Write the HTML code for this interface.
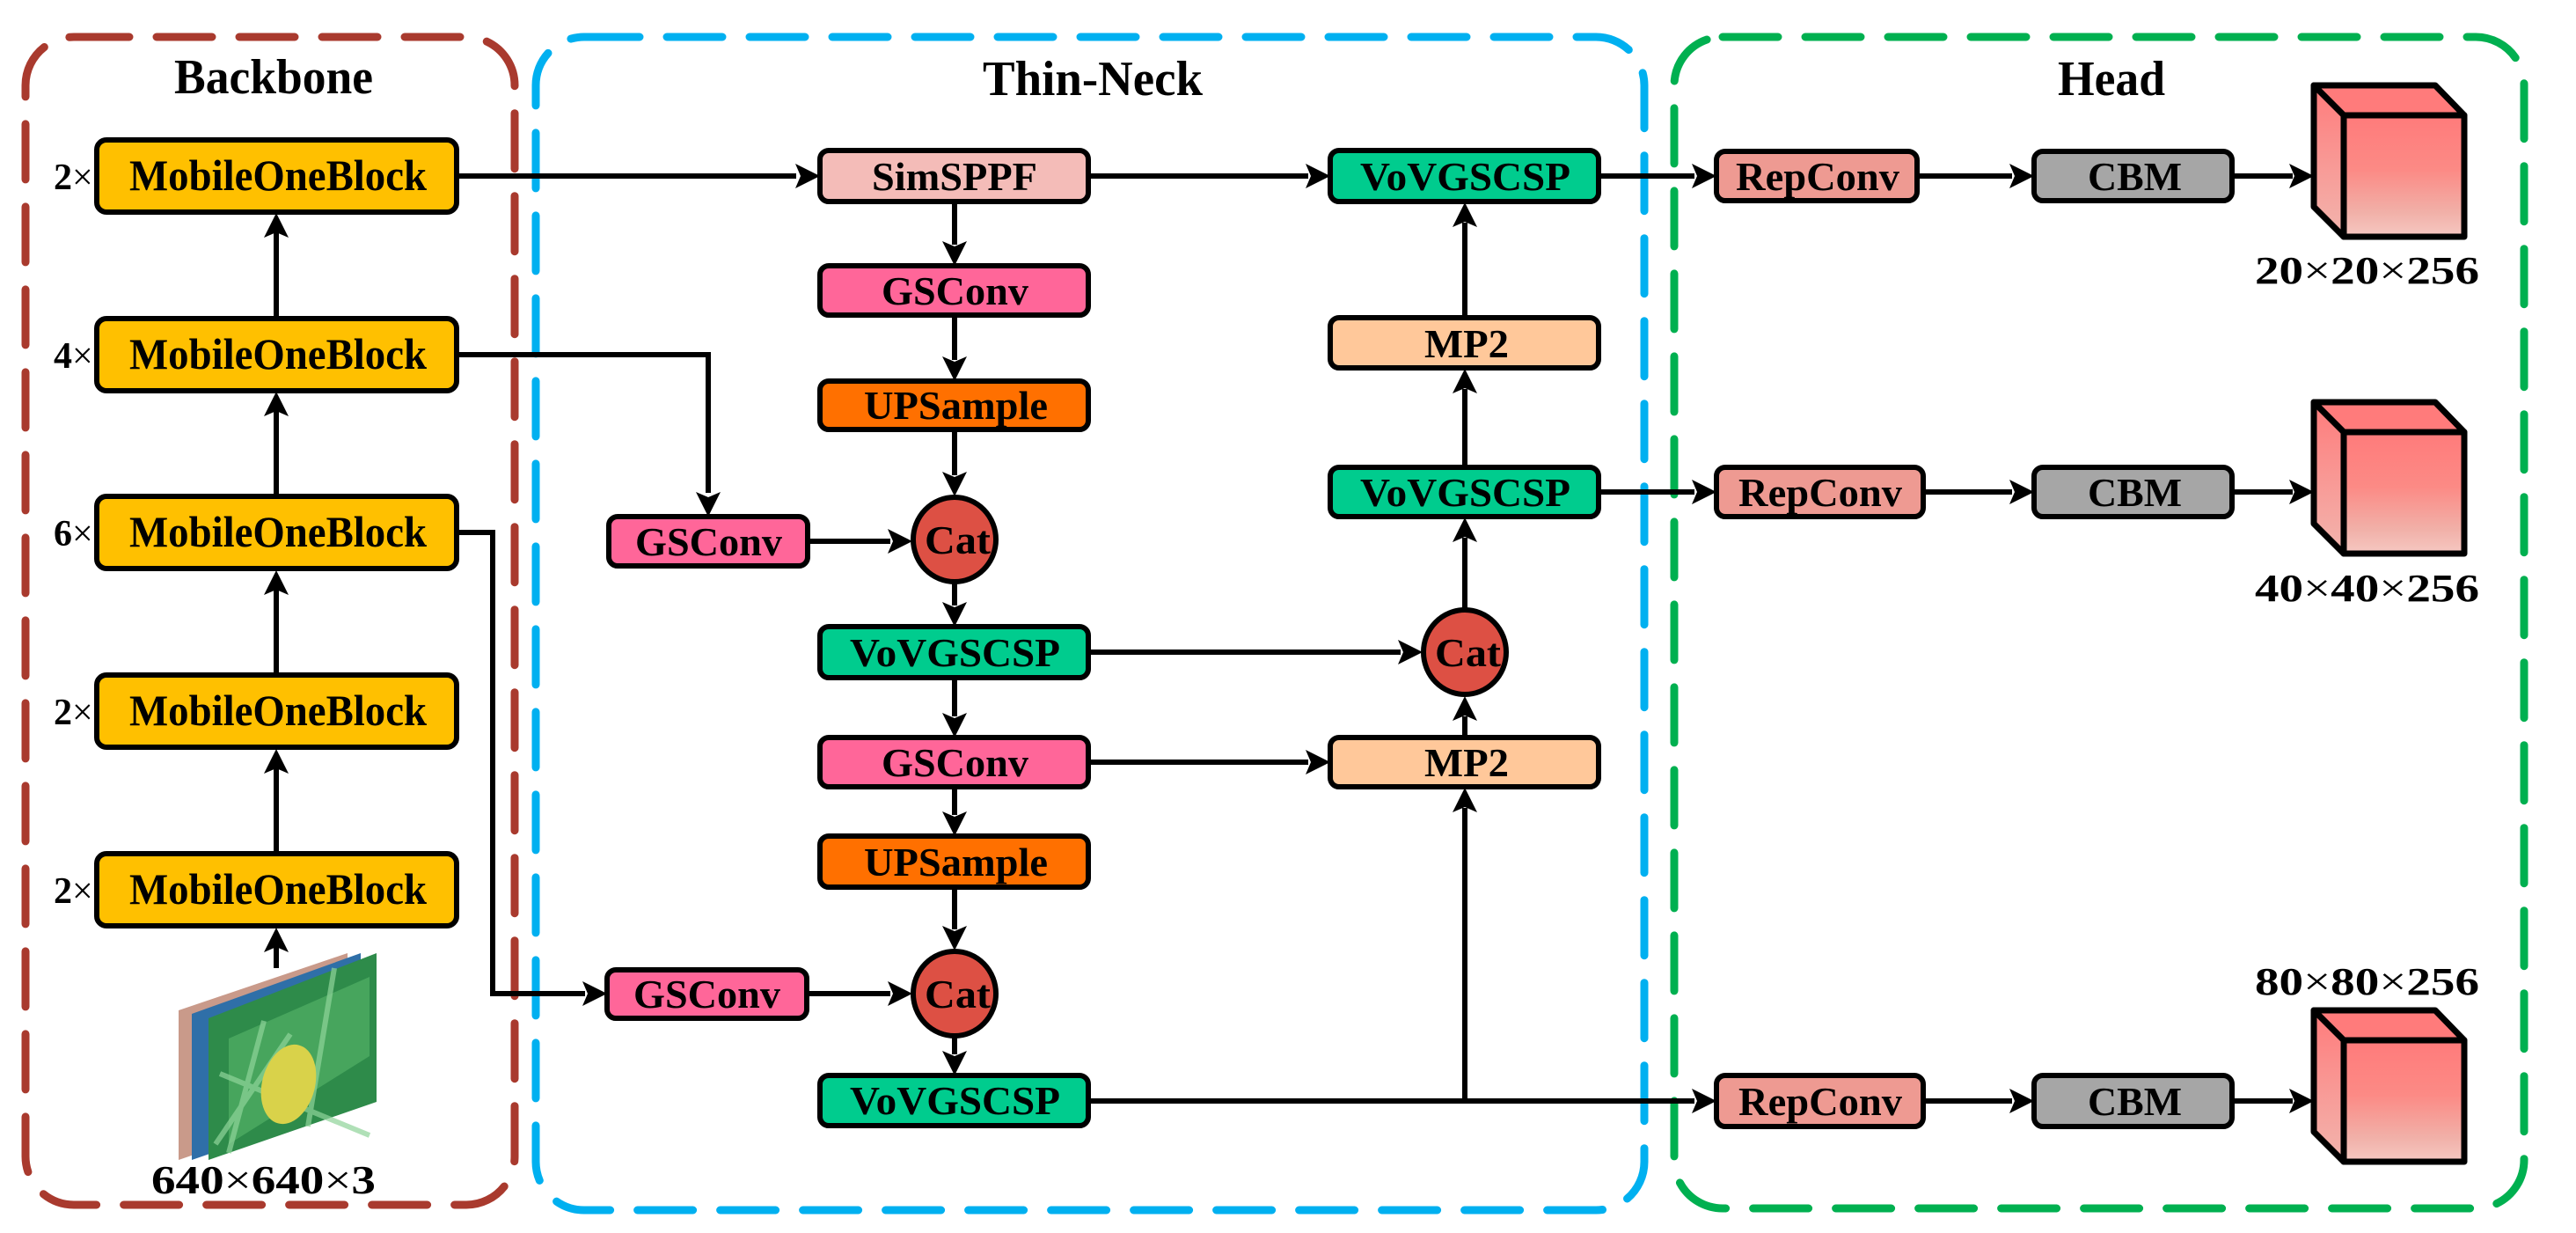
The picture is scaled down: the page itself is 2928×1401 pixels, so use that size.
<!DOCTYPE html>
<html><head><meta charset="utf-8"><style>
html,body{margin:0;padding:0;background:#fff;}
svg{display:block;}
svg text{font-family:"Liberation Serif","DejaVu Serif","Noto Serif CJK SC",serif;font-weight:bold;fill:#000;}
</style></head><body>
<svg width="2928" height="1401" viewBox="0 0 2928 1401" xmlns="http://www.w3.org/2000/svg">
<defs>
<linearGradient id="cg" x1="0" y1="0" x2="0" y2="1">
<stop offset="0" stop-color="#FF7B7B"/><stop offset="0.45" stop-color="#FC8A85"/><stop offset="0.8" stop-color="#F1B0A8"/><stop offset="1" stop-color="#F6C8C2"/>
</linearGradient>
<linearGradient id="cgs" x1="0" y1="0" x2="0" y2="1">
<stop offset="0" stop-color="#FF7B7B"/><stop offset="1" stop-color="#F2B5AE"/>
</linearGradient>
</defs>

<rect x="29" y="42" width="556" height="1327" rx="55" fill="none" stroke="#A93A2E" stroke-width="9" stroke-dasharray="63 31" stroke-linecap="round"/>
<rect x="609" y="42" width="1260" height="1333" rx="55" fill="none" stroke="#00B0F0" stroke-width="9" stroke-dasharray="63 31" stroke-linecap="round"/>
<rect x="1903" y="42" width="966" height="1331" rx="55" fill="none" stroke="#00B050" stroke-width="9" stroke-dasharray="63 31" stroke-linecap="round"/>

<text x="198" y="106" font-size="56" textLength="226" lengthAdjust="spacingAndGlyphs">Backbone</text>
<text x="1117" y="108" font-size="56" textLength="250" lengthAdjust="spacingAndGlyphs">Thin-Neck</text>
<text x="2339" y="108" font-size="56" textLength="122" lengthAdjust="spacingAndGlyphs">Head</text>

<g stroke="#000" stroke-width="6" fill="none">
<line x1="314" y1="362" x2="314" y2="262"/>
<line x1="314" y1="563" x2="314" y2="465"/>
<line x1="314" y1="766" x2="314" y2="668"/>
<line x1="314" y1="969" x2="314" y2="871"/>
<line x1="314" y1="1100" x2="314" y2="1074"/>
<line x1="520" y1="200" x2="905" y2="200"/>
<polyline points="520,403 805,403 805,560"/>
<polyline points="520,605 560,605 560,1129 665,1129"/>
<line x1="1085" y1="229" x2="1085" y2="278"/>
<line x1="1085" y1="358" x2="1085" y2="409"/>
<line x1="1085" y1="488" x2="1085" y2="540"/>
<line x1="1085" y1="662" x2="1085" y2="688"/>
<line x1="1085" y1="770" x2="1085" y2="814"/>
<line x1="1085" y1="894" x2="1085" y2="926"/>
<line x1="1085" y1="1008" x2="1085" y2="1056"/>
<line x1="1085" y1="1178" x2="1085" y2="1198"/>
<line x1="918" y1="615" x2="1012" y2="615"/>
<line x1="917" y1="1129" x2="1012" y2="1129"/>
<line x1="1237" y1="741" x2="1592" y2="741"/>
<line x1="1237" y1="866" x2="1487" y2="866"/>
<line x1="1237" y1="200" x2="1487" y2="200"/>
<line x1="1665" y1="361" x2="1665" y2="253"/>
<line x1="1665" y1="531" x2="1665" y2="442"/>
<line x1="1665" y1="692" x2="1665" y2="611"/>
<line x1="1665" y1="838" x2="1665" y2="814"/>
<line x1="1665" y1="1251" x2="1665" y2="918"/>
<line x1="1237" y1="1251" x2="1926" y2="1251"/>
<line x1="1817" y1="200" x2="1926" y2="200"/>
<line x1="1817" y1="559" x2="1926" y2="559"/>
<line x1="2179" y1="200" x2="2287" y2="200"/>
<line x1="2186" y1="559" x2="2287" y2="559"/>
<line x1="2186" y1="1251" x2="2287" y2="1251"/>
<line x1="2537" y1="200" x2="2606" y2="200"/>
<line x1="2537" y1="559" x2="2606" y2="559"/>
<line x1="2537" y1="1251" x2="2606" y2="1251"/>
</g>

<g fill="#000">
<polygon points="314,242 300,270 314,264 328,270"/>
<polygon points="314,445 300,473 314,467 328,473"/>
<polygon points="314,648 300,676 314,670 328,676"/>
<polygon points="314,851 300,879 314,873 328,879"/>
<polygon points="314,1054 300,1082 314,1076 328,1082"/>
<polygon points="1665,230 1651,258 1665,252 1679,258"/>
<polygon points="1665,419 1651,447 1665,441 1679,447"/>
<polygon points="1665,588 1651,616 1665,610 1679,616"/>
<polygon points="1665,791 1651,819 1665,813 1679,819"/>
<polygon points="1665,895 1651,923 1665,917 1679,923"/>
<polygon points="805,587 791,559 805,565 819,559"/>
<polygon points="1085,302 1071,274 1085,280 1099,274"/>
<polygon points="1085,433 1071,405 1085,411 1099,405"/>
<polygon points="1085,564 1071,536 1085,542 1099,536"/>
<polygon points="1085,712 1071,684 1085,690 1099,684"/>
<polygon points="1085,838 1071,810 1085,816 1099,810"/>
<polygon points="1085,950 1071,922 1085,928 1099,922"/>
<polygon points="1085,1080 1071,1052 1085,1058 1099,1052"/>
<polygon points="1085,1222 1071,1194 1085,1200 1099,1194"/>
<polygon points="932,200 904,186 910,200 904,214"/>
<polygon points="690,1129 662,1115 668,1129 662,1143"/>
<polygon points="1037,615 1009,601 1015,615 1009,629"/>
<polygon points="1037,1129 1009,1115 1015,1129 1009,1143"/>
<polygon points="1617,741 1589,727 1595,741 1589,755"/>
<polygon points="1512,866 1484,852 1490,866 1484,880"/>
<polygon points="1512,200 1484,186 1490,200 1484,214"/>
<polygon points="1951,200 1923,186 1929,200 1923,214"/>
<polygon points="1951,559 1923,545 1929,559 1923,573"/>
<polygon points="1951,1251 1923,1237 1929,1251 1923,1265"/>
<polygon points="2312,200 2284,186 2290,200 2284,214"/>
<polygon points="2312,559 2284,545 2290,559 2284,573"/>
<polygon points="2312,1251 2284,1237 2290,1251 2284,1265"/>
<polygon points="2630,200 2602,186 2608,200 2602,214"/>
<polygon points="2630,559 2602,545 2608,559 2602,573"/>
<polygon points="2630,1251 2602,1237 2608,1251 2602,1265"/>
</g>

<g stroke="#000" stroke-width="6" fill="#FFC000">
<rect x="110" y="159" width="409" height="82" rx="11"/>
<rect x="110" y="362" width="409" height="82" rx="11"/>
<rect x="110" y="564" width="409" height="82" rx="11"/>
<rect x="110" y="767" width="409" height="82" rx="11"/>
<rect x="110" y="970" width="409" height="82" rx="11"/>
</g>
<g font-size="50">
<text x="147" y="216" textLength="338" lengthAdjust="spacingAndGlyphs">MobileOneBlock</text>
<text x="147" y="419" textLength="338" lengthAdjust="spacingAndGlyphs">MobileOneBlock</text>
<text x="147" y="621" textLength="338" lengthAdjust="spacingAndGlyphs">MobileOneBlock</text>
<text x="147" y="824" textLength="338" lengthAdjust="spacingAndGlyphs">MobileOneBlock</text>
<text x="147" y="1027" textLength="338" lengthAdjust="spacingAndGlyphs">MobileOneBlock</text>
</g>
<g font-size="42">
<text x="61" y="215">2<tspan font-weight="normal">×</tspan></text>
<text x="61" y="418">4<tspan font-weight="normal">×</tspan></text>
<text x="61" y="620">6<tspan font-weight="normal">×</tspan></text>
<text x="61" y="823">2<tspan font-weight="normal">×</tspan></text>
<text x="61" y="1026">2<tspan font-weight="normal">×</tspan></text>
</g>

<polygon points="203,1148 395,1083 395,1252 203,1318" fill="#C99A8A"/>
<polygon points="218,1152 410,1083 410,1252 218,1318" fill="#2F6FA8"/>
<polygon points="237,1157 428,1083 428,1252 237,1318" fill="#2E8B4A"/>
<polygon points="260,1180 420,1110 420,1200 260,1300" fill="#58B86A" opacity="0.6"/>
<path d="M245,1300 L330,1175 M250,1220 L420,1290 M300,1160 L260,1310 M380,1100 L350,1280" stroke="#8FD49A" stroke-width="6" opacity="0.7"/>
<ellipse cx="328" cy="1232" rx="30" ry="46" transform="rotate(15 328 1232)" fill="#D9D24A"/>
<text x="172" y="1356" font-size="46" textLength="255" lengthAdjust="spacingAndGlyphs">640<tspan font-weight="normal">×</tspan>640<tspan font-weight="normal">×</tspan>3</text>

<g stroke="#000" stroke-width="6">
<rect x="932" y="171" width="305" height="58" rx="10" fill="#F4BCB8"/>
<rect x="932" y="302" width="305" height="56" rx="10" fill="#FF6699"/>
<rect x="932" y="433" width="305" height="55" rx="10" fill="#FF7000"/>
<rect x="932" y="712" width="305" height="58" rx="10" fill="#00CC8E"/>
<rect x="932" y="838" width="305" height="56" rx="10" fill="#FF6699"/>
<rect x="932" y="950" width="305" height="58" rx="10" fill="#FF7000"/>
<rect x="932" y="1222" width="305" height="57" rx="10" fill="#00CC8E"/>
<rect x="692" y="587" width="226" height="56" rx="10" fill="#FF6699"/>
<rect x="690" y="1102" width="227" height="55" rx="10" fill="#FF6699"/>
<rect x="1512" y="171" width="305" height="58" rx="10" fill="#00CC8E"/>
<rect x="1512" y="361" width="305" height="57" rx="10" fill="#FFC89A"/>
<rect x="1512" y="531" width="305" height="56" rx="10" fill="#00CC8E"/>
<rect x="1512" y="838" width="305" height="56" rx="10" fill="#FFC89A"/>
<ellipse cx="1085" cy="613" rx="47" ry="48" fill="#DD5044"/>
<ellipse cx="1085" cy="1129" rx="47" ry="48" fill="#DD5044"/>
<ellipse cx="1665" cy="741" rx="47" ry="48" fill="#DD5044"/>
</g>
<g font-size="46">
<text x="991" y="216" textLength="188" lengthAdjust="spacingAndGlyphs">SimSPPF</text>
<text x="1002" y="346" textLength="167" lengthAdjust="spacingAndGlyphs">GSConv</text>
<text x="982" y="476" textLength="209" lengthAdjust="spacingAndGlyphs">UPSample</text>
<text x="966" y="757" textLength="239" lengthAdjust="spacingAndGlyphs">VoVGSCSP</text>
<text x="1002" y="882" textLength="167" lengthAdjust="spacingAndGlyphs">GSConv</text>
<text x="982" y="995" textLength="209" lengthAdjust="spacingAndGlyphs">UPSample</text>
<text x="966" y="1266" textLength="239" lengthAdjust="spacingAndGlyphs">VoVGSCSP</text>
<text x="722" y="631" textLength="167" lengthAdjust="spacingAndGlyphs">GSConv</text>
<text x="720" y="1145" textLength="167" lengthAdjust="spacingAndGlyphs">GSConv</text>
<text x="1546" y="216" textLength="239" lengthAdjust="spacingAndGlyphs">VoVGSCSP</text>
<text x="1619" y="406" textLength="96" lengthAdjust="spacingAndGlyphs">MP2</text>
<text x="1546" y="575" textLength="239" lengthAdjust="spacingAndGlyphs">VoVGSCSP</text>
<text x="1619" y="882" textLength="96" lengthAdjust="spacingAndGlyphs">MP2</text>
<text x="1051" y="629" textLength="75" lengthAdjust="spacingAndGlyphs">Cat</text>
<text x="1051" y="1145" textLength="75" lengthAdjust="spacingAndGlyphs">Cat</text>
<text x="1631" y="757" textLength="75" lengthAdjust="spacingAndGlyphs">Cat</text>
</g>

<g stroke="#000" stroke-width="6">
<rect x="1951" y="172" width="228" height="56" rx="10" fill="#EE9A92"/>
<rect x="1951" y="531" width="235" height="56" rx="10" fill="#EE9A92"/>
<rect x="1951" y="1222" width="235" height="58" rx="10" fill="#EE9A92"/>
<rect x="2312" y="172" width="225" height="56" rx="10" fill="#A6A6A6"/>
<rect x="2312" y="531" width="225" height="56" rx="10" fill="#A6A6A6"/>
<rect x="2312" y="1222" width="225" height="58" rx="10" fill="#A6A6A6"/>
</g>
<g font-size="46">
<text x="1973" y="216" textLength="186" lengthAdjust="spacingAndGlyphs">RepConv</text>
<text x="1976" y="575" textLength="186" lengthAdjust="spacingAndGlyphs">RepConv</text>
<text x="1976" y="1267" textLength="186" lengthAdjust="spacingAndGlyphs">RepConv</text>
<text x="2373" y="216" textLength="107" lengthAdjust="spacingAndGlyphs">CBM</text>
<text x="2373" y="575" textLength="107" lengthAdjust="spacingAndGlyphs">CBM</text>
<text x="2373" y="1267" textLength="107" lengthAdjust="spacingAndGlyphs">CBM</text>
</g>

<g stroke="#000" stroke-width="7" stroke-linejoin="round">
<g>
<polygon points="2630,97 2768,97 2801,131 2664,131" fill="#FF7B7B"/>
<polygon points="2630,97 2664,131 2664,269 2630,235" fill="url(#cgs)"/>
<rect x="2664" y="131" width="137" height="138" fill="url(#cg)"/>
</g>
<g transform="translate(0,360)">
<polygon points="2630,97 2768,97 2801,131 2664,131" fill="#FF7B7B"/>
<polygon points="2630,97 2664,131 2664,269 2630,235" fill="url(#cgs)"/>
<rect x="2664" y="131" width="137" height="138" fill="url(#cg)"/>
</g>
<g transform="translate(0,1051)">
<polygon points="2630,97 2768,97 2801,131 2664,131" fill="#FF7B7B"/>
<polygon points="2630,97 2664,131 2664,269 2630,235" fill="url(#cgs)"/>
<rect x="2664" y="131" width="137" height="138" fill="url(#cg)"/>
</g>
</g>
<g font-size="44">
<text x="2563" y="322" textLength="255" lengthAdjust="spacingAndGlyphs">20<tspan font-weight="normal">×</tspan>20<tspan font-weight="normal">×</tspan>256</text>
<text x="2563" y="683" textLength="255" lengthAdjust="spacingAndGlyphs">40<tspan font-weight="normal">×</tspan>40<tspan font-weight="normal">×</tspan>256</text>
<text x="2563" y="1130" textLength="255" lengthAdjust="spacingAndGlyphs">80<tspan font-weight="normal">×</tspan>80<tspan font-weight="normal">×</tspan>256</text>
</g>
</svg>
</body></html>
